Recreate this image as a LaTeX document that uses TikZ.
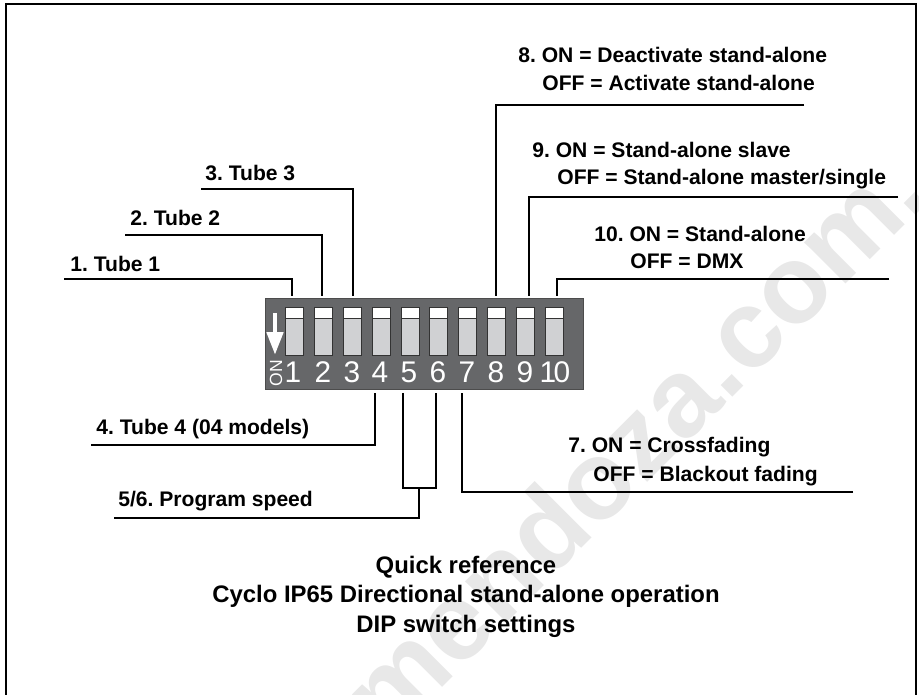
\documentclass[tikz,border=0pt]{standalone}
\usepackage{fontspec}
\setmainfont{Liberation Sans}
\usetikzlibrary{arrows.meta}
\definecolor{panelgray}{RGB}{102,103,105}
\definecolor{levergray}{RGB}{208,209,211}
\definecolor{markgray}{RGB}{232,232,232}
\tikzset{
	lbl/.style={inner sep=0pt, anchor=base west, font=\fontsize{12}{14}\selectfont\bfseries},
	wire/.style={line width=1.1pt},
	swnum/.style={inner sep=0pt, text=white, font=\fontsize{17}{19}\selectfont},
}
\frenchspacing
\begin{document}
\begin{tikzpicture}[x=0.02cm, y=-0.02cm]
	\useasboundingbox (0,0) rectangle (919,695);
	\begin{scope}
		\clip (0,0) rectangle (919,695);
		% watermark
		\node[rotate=45, anchor=base east, text=markgray, inner sep=0pt, font=\fontsize{63}{63}\selectfont\bfseries] (mark) at (932,198) {mendoza.com.};

		\draw[line width=1.3pt] (6,700) -- (6,4) -- (916,4) -- (916,700);

		% switch block
		\node[draw=black!70, fill=panelgray, line width=0.5pt, minimum width=318*0.02cm, minimum height=91*0.02cm, inner sep=0pt] (panel) at (424,343.5) {};
		\foreach \n/\x/\tx in {1/294/293, 2/323/323, 3/352/352, 4/381/380, 5/410/409, 6/438/438, 7/467/467, 8/496/496, 9/525/525} {
			\filldraw[draw=black!80, fill=levergray, line width=0.4pt] (\x-9,307) rectangle (\x+9,355);
			\filldraw[draw=black!80, fill=white, line width=0.4pt] (\x-9,307) rectangle (\x+9,318);
			\node[swnum] (num\n) at (\tx,372) {\n};
		}
		\filldraw[draw=black!80, fill=levergray, line width=0.4pt] (545,307) rectangle (563,355);
		\filldraw[draw=black!80, fill=white, line width=0.4pt] (545,307) rectangle (563,318);
		\node[swnum] (num10) at (555,372) {1\kern-1.5pt 0};
		\draw[-{Triangle[width=9pt,length=13pt]}, white, line width=2.8pt] (275,313) -- (275,355);
		\node[swnum, rotate=90, font=\fontsize{10}{12}\selectfont] (on) at (276,373) {ON};

		% ends at the block
		\foreach \n/\x in {a/292, b/322, c/353, h/496, i/529, j/557}
			\coordinate (top\n) at (\x,296);
		\foreach \n/\x in {d/375, e/403, f/436, g/462}
			\coordinate (bot\n) at (\x,393);

		% labels above
		\node[lbl] (tubea) at (70,272) {1. Tube 1};
		\node[lbl] (tubeb) at (130,226) {2. Tube 2};
		\node[lbl] (tubec) at (205,181) {3. Tube 3};
		\node[lbl] (onh) at (518,63) {8. ON = Deactivate stand-alone};
		\node[lbl] (offh) at (542,91) {OFF = Activate stand-alone};
		\node[lbl] (oni) at (532,158) {9. ON = Stand-alone slave};
		\node[lbl] (offi) at (557,185) {OFF = Stand-alone master/single};
		\node[lbl] (onj) at (594,242) {10. ON = Stand-alone};
		\node[lbl] (offj) at (630,269) {OFF = DMX};

		% labels below
		\node[lbl] (tubed) at (96,435) {4. Tube 4 (04 models)};
		\node[lbl] (speed) at (118,506) {5/6. Program speed};
		\node[lbl] (ong) at (568,453) {7. ON = Crossfading};
		\node[lbl] (offg) at (593,481) {OFF = Blackout fading};

		% free ends of the lines
		\coordinate (enda) at (64,279);
		\coordinate (endb) at (125,235);
		\coordinate (endc) at (201,189);
		\coordinate (endh) at (804,105);
		\coordinate (endi) at (898,197);
		\coordinate (endj) at (889,279);
		\coordinate (endd) at (91,445);
		\coordinate (ends) at (114,518);
		\coordinate (endg) at (853,492);
		\coordinate (joint) at (419,488);

		\draw[wire] (enda) -| (topa);
		\draw[wire] (endb) -| (topb);
		\draw[wire] (endc) -| (topc);
		\draw[wire] (endh) -| (toph);
		\draw[wire] (endi) -| (topi);
		\draw[wire] (endj) -| (topj);
		\draw[wire] (endd) -| (botd);
		\draw[wire] (ends) -| (joint);
		\draw[wire] (bote) |- (botf |- joint) -- (botf);
		\draw[wire] (endg) -| (botg);

		% title
		\node[inner sep=0pt, anchor=base, align=center, font=\fontsize{13.6}{16.7}\selectfont\bfseries] (title) at (466,632) {Quick reference\\Cyclo IP65 Directional stand-alone operation\\DIP switch settings};
	\end{scope}
\end{tikzpicture}
\end{document}
